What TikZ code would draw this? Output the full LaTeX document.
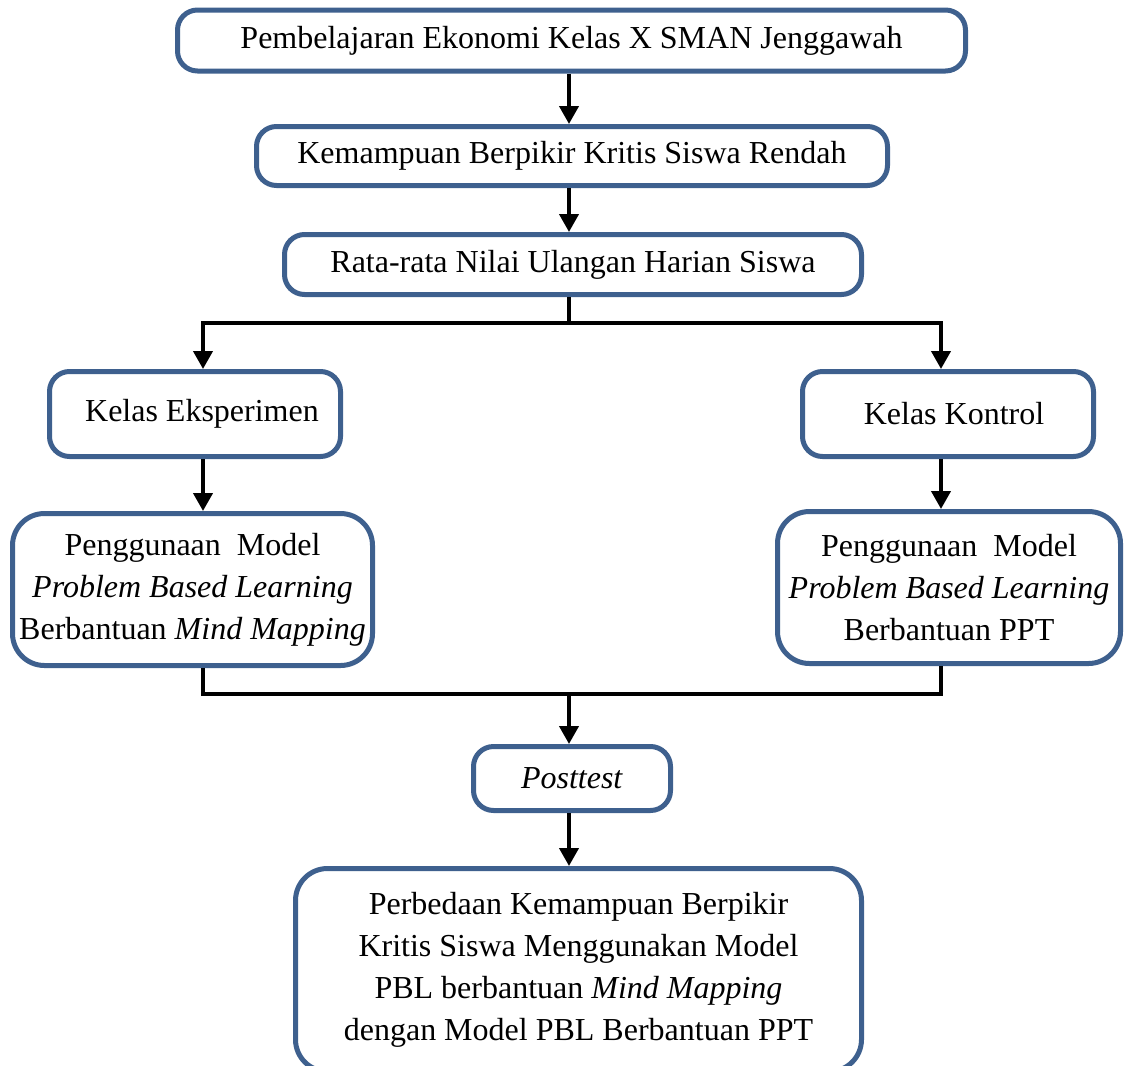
\documentclass[tikz,border=0pt]{standalone}
\usepackage{fontspec}
\setmainfont{Liberation Serif}
\usetikzlibrary{arrows.meta}
\definecolor{boxblue}{RGB}{62,96,142}
\tikzset{
  box/.style={draw=boxblue, line width=5pt, rounded corners=20pt, fill=white,
    align=center, inner sep=0pt,
    font=\fontsize{32pt}{42pt}\selectfont},
  bigbox/.style={box, rounded corners=32pt},
  conn/.style={draw=black, line width=4pt},
  arr/.style={conn, -{Triangle[length=18pt,width=19pt]}},
}
\begin{document}
\begin{tikzpicture}[x=1pt,y=-1pt]
\useasboundingbox (0,0) rectangle (1125,1066);
\clip (0,0) rectangle (1125,1066);
\coordinate (sp) at (569,0);
\coordinate (L) at (203,0);
\coordinate (R) at (941,0);
\coordinate (j1) at (569,323);
\coordinate (j2) at (569,694);

\node[box, minimum width=788pt, minimum height=61pt] (b1) at (571.5,40.5)
  {Pembelajaran Ekonomi Kelas X SMAN Jenggawah};
\node[box, minimum width=631pt, minimum height=59pt] (b2) at (572,156)
  {Kemampuan Berpikir Kritis Siswa Rendah};
\node[box, minimum width=577pt, minimum height=60pt] (b3) at (573,264.5)
  {Rata-rata Nilai Ulangan Harian Siswa};
\node[box, minimum width=291pt, minimum height=85pt] (eks) at (195,414)
  {\hspace*{14pt}Kelas Eksperimen};
\node[box, minimum width=291pt, minimum height=85pt] (kon) at (948,414)
  {\hspace*{12pt}Kelas Kontrol};
\node[bigbox, minimum width=360pt, minimum height=152pt] (p1) at (192.5,589.5)
  {Penggunaan\ \ Model\\\textit{Problem Based Learning}\\Berbantuan \textit{Mind Mapping}};
\node[bigbox, minimum width=343pt, minimum height=152pt] (p2) at (949,587.5)
  {Penggunaan\ \ Model\\\textit{Problem Based Learning}\\Berbantuan PPT};
\node[box, minimum width=197pt, minimum height=64pt] (post) at (572,778.5)
  {\textit{Posttest}};
\node[bigbox, minimum width=566pt, minimum height=203pt] (res) at (578.5,970)
  {Perbedaan Kemampuan Berpikir\\Kritis Siswa Menggunakan Model\\PBL berbantuan \textit{Mind Mapping}\\dengan Model PBL Berbantuan PPT};

\draw[arr] (b1.south -| sp) -- (b2.north -| sp);
\draw[arr] (b2.south -| sp) -- (b3.north -| sp);
\draw[conn] (b3.south -| sp) -- (j1);
\draw[arr] (j1) -| (eks.north -| L);
\draw[arr] (j1) -| (kon.north -| R);
\draw[arr] (eks.south -| L) -- (p1.north -| L);
\draw[arr] (kon.south -| R) -- (p2.north -| R);
\draw[conn] (p1.south -| L) -- (L |- j2) -- (R |- j2) -- (p2.south -| R);
\draw[arr] (j2) -- (post.north -| sp);
\draw[arr] (post.south -| sp) -- (res.north -| sp);
\end{tikzpicture}
\end{document}
